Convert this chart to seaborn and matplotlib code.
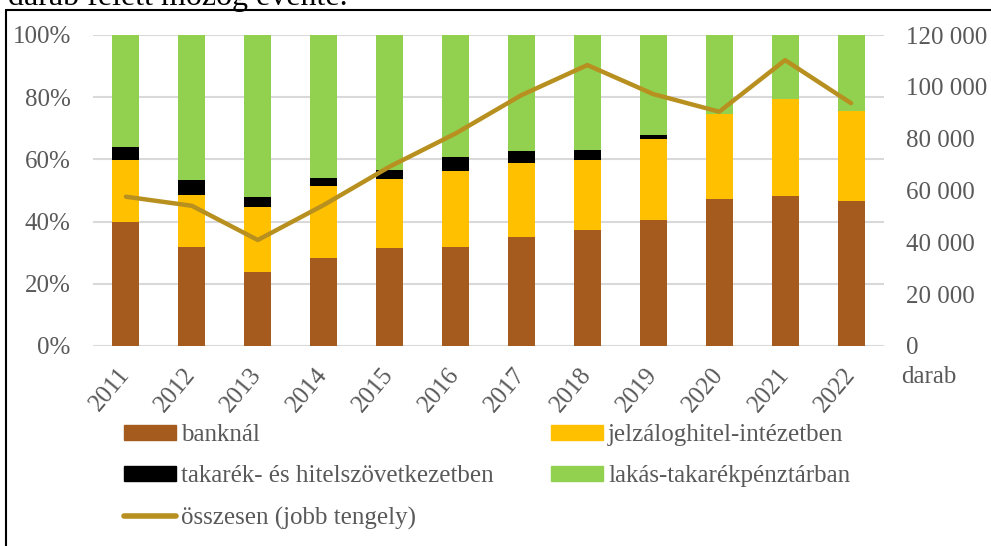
import numpy as np
import pandas as pd
import matplotlib
matplotlib.use("Agg")
import matplotlib.pyplot as plt
from matplotlib.lines import Line2D
from matplotlib.patches import Patch
from matplotlib.ticker import FuncFormatter, MultipleLocator
import seaborn as sns

years = ["2011", "2012", "2013", "2014", "2015", "2016",
         "2017", "2018", "2019", "2020", "2021", "2022"]
bank = [40.0, 31.9, 23.9, 28.4, 31.6, 31.9, 35.0, 37.3, 40.5, 47.2, 48.2, 46.6]
jelzalog = [19.8, 16.6, 20.7, 23.1, 22.1, 24.5, 23.8, 22.5, 26.1, 27.4, 31.1, 29.1]
takarek = [4.2, 4.8, 3.4, 2.6, 2.9, 4.4, 3.9, 3.1, 1.2, 0.0, 0.0, 0.0]
osszesen = [57600, 54100, 40900, 54400, 69200, 82000, 96800, 108400,
            97200, 90400, 110300, 93700]

labels = ["banknál", "jelzáloghitel-intézetben",
          "takarék- és hitelszövetkezetben", "lakás-takarékpénztárban",
          "összesen (jobb tengely)"]
colors = ["#A55A1E", "#FFC000", "#000000", "#92D050", "#B8901F"]

sns.set_theme(style="white")
plt.rcParams["font.family"] = ["Liberation Serif", "DejaVu Serif"]

fs = 18
tick_color = "#595959"

cum1 = np.array(bank) / 100
cum2 = cum1 + np.array(jelzalog) / 100
cum3 = cum2 + np.array(takarek) / 100
cum4 = np.ones(len(years))

df = pd.DataFrame({"year": years, "c1": cum1, "c2": cum2, "c3": cum3,
                   "c4": cum4, "pos": np.arange(len(years)),
                   "total": osszesen})

fig = plt.figure(figsize=(9.91, 5.46), dpi=100)
ax = fig.add_axes([93 / 991, 1 - 346 / 546, (884 - 93) / 991, (346 - 35) / 546])

for col, c in zip(["c4", "c3", "c2", "c1"],
                  [colors[3], colors[2], colors[1], colors[0]]):
    sns.barplot(data=df, x="year", y=col, order=years, color=c,
                saturation=1, width=0.41, ax=ax, linewidth=0, zorder=2)

ax.set_xlim(-0.5, len(years) - 0.5)
ax.set_ylim(0, 1)
ax.yaxis.set_major_locator(MultipleLocator(0.2))
ax.yaxis.set_major_formatter(FuncFormatter(lambda v, p: f"{v * 100:.0f}%"))
ax.grid(axis="y", color="#D9D9D9", linewidth=1.5)
ax.grid(axis="x", visible=False)
ax.set_axisbelow(True)
for s in ax.spines.values():
    s.set_visible(False)
ax.set_xlabel("")
ax.set_ylabel("")
ax.tick_params(axis="y", length=0, pad=16, labelsize=fs, labelcolor=tick_color)
ax.tick_params(axis="x", length=0, pad=18, labelsize=fs, labelcolor=tick_color)
for t in ax.get_xticklabels():
    t.set_rotation(50)
    t.set_ha("right")
    t.set_va("center")
    t.set_rotation_mode("anchor")

ax2 = ax.twinx()
sns.lineplot(data=df, x="pos", y="total", color=colors[4], linewidth=3.2,
             ax=ax2, solid_capstyle="round", solid_joinstyle="round")
ax2.set_ylim(0, 120000)
ax2.yaxis.set_major_locator(MultipleLocator(20000))
ax2.yaxis.set_major_formatter(
    FuncFormatter(lambda v, p: f"{int(v):,}".replace(",", " ")))
ax2.tick_params(axis="y", length=0, pad=16, labelsize=fs, labelcolor=tick_color)
for s in ax2.spines.values():
    s.set_visible(False)
ax2.set_xlabel("")
ax2.set_ylabel("")
ax2.grid(False)
ax.set_xlim(-0.5, len(years) - 0.5)

fig.text(929 / 991, 1 - 377 / 546, "darab", ha="center", va="center",
         fontsize=fs, color=tick_color)

handles = [Patch(color=colors[0]), Patch(color=colors[2]),
           Line2D([0], [0], color=colors[4], linewidth=4, solid_capstyle="round"),
           Patch(color=colors[1]), Patch(color=colors[3])]
hlabels = [labels[0], labels[2], labels[4], labels[1], labels[3]]
leg = fig.legend(handles, hlabels, ncol=2, loc="upper left",
                 bbox_to_anchor=(124 / 991, 1 - 424 / 546),
                 frameon=False, fontsize=fs, handlelength=2.08,
                 handleheight=0.56, handletextpad=0.2, columnspacing=2.3,
                 labelspacing=0.77, borderpad=0, borderaxespad=0)
for t in leg.get_texts():
    t.set_color(tick_color)

# outer frame (partially visible) and clipped caption text above
fig.add_artist(Line2D([6 / 991, 1.0], [1 - 10 / 546, 1 - 10 / 546],
                      transform=fig.transFigure, color="black", linewidth=1.5))
fig.add_artist(Line2D([6 / 991, 6 / 991], [0, 1 - 10 / 546],
                      transform=fig.transFigure, color="black", linewidth=1.5))
fig.text(8 / 991, 1 - 5 / 546, "darab felett mozog évente.", ha="left",
         va="baseline", fontsize=23, color="black")

fig.savefig("out.png", dpi=100)
